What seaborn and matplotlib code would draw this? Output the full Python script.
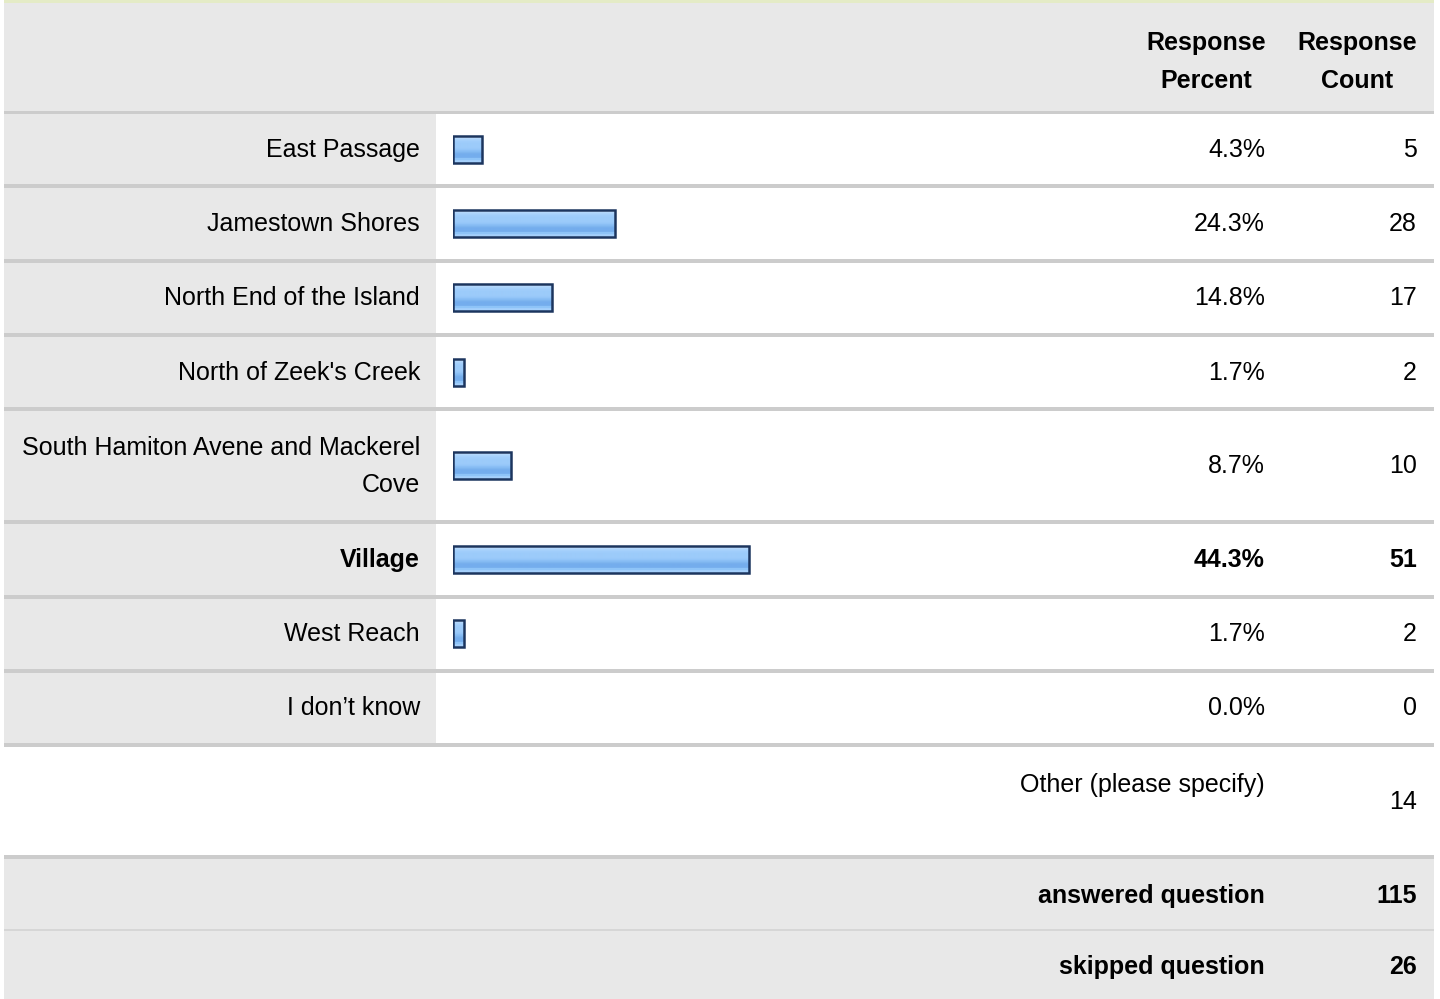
import matplotlib
matplotlib.use("Agg")
import matplotlib.pyplot as plt
from matplotlib.patches import Rectangle
from matplotlib.colors import to_rgb
import seaborn as sns
import pandas as pd
import numpy as np

# data
labels = ["East Passage", "Jamestown Shores", "North End of the Island",
          "North of Zeek's Creek", "South Hamiton Avene and Mackerel\nCove",
          "Village", "West Reach", "I don\u2019t know"]
percents = [4.3, 24.3, 14.8, 1.7, 8.7, 44.3, 1.7, 0.0]
counts = [5, 28, 17, 2, 10, 51, 2, 0]
header_labels = ["Response\nPercent", "Response\nCount"]
other_label = "Other (please specify)"
other_count = 14
summary_labels = ["answered question", "skipped question"]
summary_counts = [115, 26]

# layout (pixels)
W, H = 1440, 999
left, right = 4, 1434
label_col = 436
bar_x0 = 453
px_per_pct = 6.68
label_x, pct_x, cnt_x = 420, 1265, 1417
header_bottom = 112
gray = "#e8e8e8"
sep = "#cccccc"
fs = 18
font = "Liberation Sans"

sns.set_theme(style="white")
plt.rcParams["font.family"] = [font, "DejaVu Sans"]
plt.rcParams["text.color"] = "black"

fig = plt.figure(figsize=(W / 100, H / 100), dpi=100)
ax = fig.add_axes([0, 0, 1, 1])
ax.set_xlim(0, W)
ax.set_ylim(H, 0)
ax.axis("off")


def box(x0, y0, x1, y1, color, z=0):
    ax.add_patch(Rectangle((x0, y0), x1 - x0, y1 - y0, facecolor=color,
                           edgecolor="none", zorder=z))


# header
box(left, 0, right, 3, "#e4ebc6")
box(left, 3, right, header_bottom, gray)
box(left, header_bottom - 1, right, header_bottom + 2, sep, 1)
ax.text(1206, 62, header_labels[0], ha="center", va="center", fontsize=fs,
        fontweight="bold", linespacing=1.72)
ax.text(1357, 62, header_labels[1], ha="center", va="center", fontsize=fs,
        fontweight="bold", linespacing=1.72)

# answer rows
top = header_bottom
centers = []
best = int(np.argmax(counts))
for i, lab in enumerate(labels):
    h = 113 if "\n" in lab else 74.3
    bottom = top + h
    box(left, top, label_col, bottom, gray)
    box(label_col, top, right, bottom, "white")
    box(left, bottom - 2, right, bottom + 2, sep, 1)
    cy = (top + bottom) / 2
    centers.append(cy)
    wt = "bold" if i == best else "normal"
    ax.text(label_x, cy + 0.5, lab, ha="right", va="center", fontsize=fs,
            fontweight=wt, linespacing=1.68)
    ax.text(pct_x, cy + 0.5, f"{percents[i]:.1f}%", ha="right", va="center",
            fontsize=fs, fontweight=wt)
    ax.text(cnt_x, cy + 0.5, str(counts[i]), ha="right", va="center",
            fontsize=fs, fontweight=wt)
    top = bottom

# other row
other_top = top + 2
other_bottom = 857
ax.text(pct_x, other_top + 38, other_label, ha="right", va="center", fontsize=fs)
ax.text(cnt_x, (other_top + other_bottom) / 2, str(other_count), ha="right",
        va="center", fontsize=fs)
box(left, other_bottom - 2, right, other_bottom + 2, sep, 1)

# summary rows
s_top = other_bottom + 2
for j, (lab, n) in enumerate(zip(summary_labels, summary_counts)):
    s_bottom = s_top + (71 if j == 0 else H - s_top)
    box(left, s_top, right, s_bottom, gray)
    cy = s_top + 37
    ax.text(pct_x, cy, lab, ha="right", va="center", fontsize=fs, fontweight="bold")
    ax.text(cnt_x, cy, str(n), ha="right", va="center", fontsize=fs, fontweight="bold")
    if j == 0:
        box(left, s_bottom - 1, right, s_bottom + 1, "#d6d6d6", 1)
    s_top = s_bottom

# bars: x in percent, y in pixel rows
bax = fig.add_axes([bar_x0 / W, 0, 100 * px_per_pct / W, 1])
bax.patch.set_alpha(0)
bar_df = pd.DataFrame({"pct": percents, "y": centers})
bar_df = bar_df[bar_df["pct"] > 0]
gap = np.diff(np.sort(bar_df["y"].unique())).min()
sns.barplot(data=bar_df, x="pct", y="y", orient="h", native_scale=True,
            width=27 / gap, color="#9ccbfa", edgecolor="#1c355e",
            linewidth=1.8, errorbar=None, ax=bax)

# glossy stripes inside each bar
stripes = ["#d2e8fd", "#d2e8fd", "#b4d8fc", "#acd4fc", "#a6d1fb", "#a1cefb",
           "#9fcdfb", "#9ccbfa", "#9ccbfa", "#9ccbfa", "#9ccbfa", "#9ccbfa",
           "#99c9fa", "#94c6f9", "#8cc0f6", "#86bcf4", "#7fb6f0", "#78b0ee",
           "#74aded", "#74aded", "#74aded", "#78b0ee", "#8ec4f8", "#8ec4f8",
           "#a0cdfb", "#a5d0fb", "#a5d0fb"]
grad = np.array([to_rgb(c) for c in stripes]).reshape(-1, 1, 3)
for p in list(bax.patches):
    bb = p.get_bbox()
    im = bax.imshow(grad, extent=(bb.x0, bb.x1, bb.y1, bb.y0), origin="upper",
                    aspect="auto", interpolation="bilinear",
                    zorder=p.get_zorder() - 0.05)
    im.set_clip_path(p)
    p.set_facecolor("none")

bax.set_xlim(0, 100)
bax.set_ylim(H, 0)
bax.axis("off")

plt.savefig("out.png", dpi=100)
plt.close()
